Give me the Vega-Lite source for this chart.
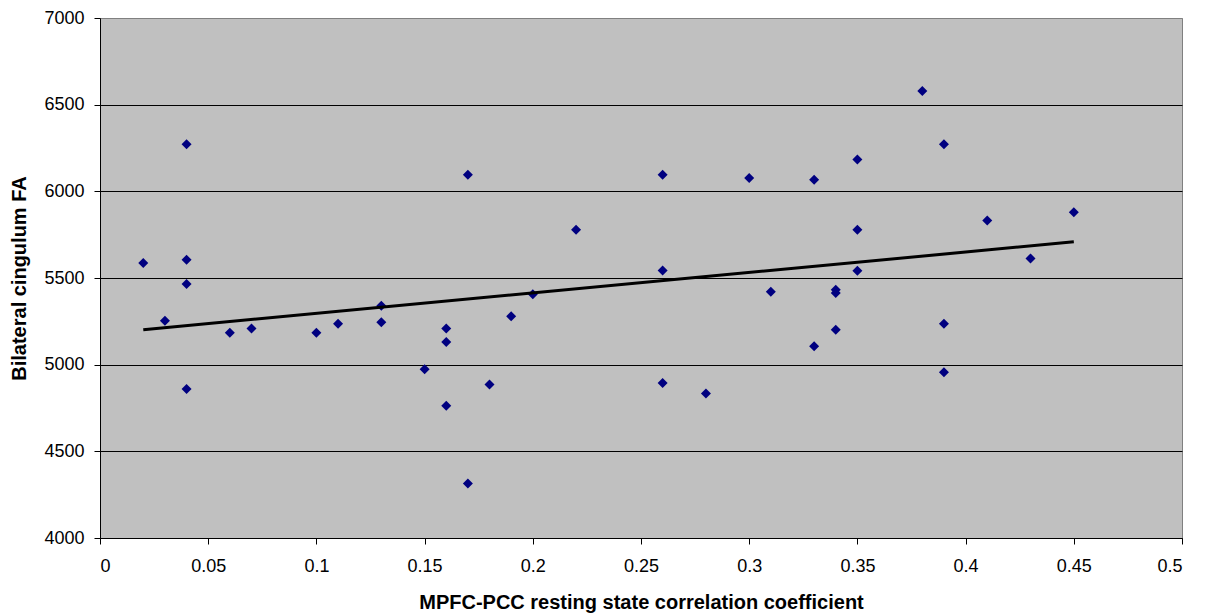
{
  "$schema": "https://vega.github.io/schema/vega-lite/v6.json",
  "autosize": "none",
  "padding": {"left": 100, "top": 18, "right": 25, "bottom": 76},
  "width": 1082,
  "height": 520,
  "background": "white",
  "config": {
    "view": {"fill": "#C0C0C0", "stroke": "#808080", "strokeWidth": 1},
    "font": "Liberation Sans"
  },
  "data": {
    "values": [
      {"r": 0.02, "fa": 5587}, {"r": 0.03, "fa": 5254}, {"r": 0.04, "fa": 6271},
      {"r": 0.04, "fa": 5606}, {"r": 0.04, "fa": 5465}, {"r": 0.04, "fa": 4860},
      {"r": 0.06, "fa": 5184}, {"r": 0.07, "fa": 5209}, {"r": 0.10, "fa": 5184},
      {"r": 0.11, "fa": 5236}, {"r": 0.13, "fa": 5340}, {"r": 0.13, "fa": 5244},
      {"r": 0.15, "fa": 4973}, {"r": 0.16, "fa": 5209}, {"r": 0.16, "fa": 5131},
      {"r": 0.16, "fa": 4763}, {"r": 0.17, "fa": 6096}, {"r": 0.17, "fa": 4315},
      {"r": 0.18, "fa": 4885}, {"r": 0.19, "fa": 5279}, {"r": 0.20, "fa": 5406},
      {"r": 0.22, "fa": 5779}, {"r": 0.26, "fa": 6096}, {"r": 0.26, "fa": 5543},
      {"r": 0.26, "fa": 4894}, {"r": 0.28, "fa": 4833}, {"r": 0.30, "fa": 6077},
      {"r": 0.31, "fa": 5421}, {"r": 0.33, "fa": 6067}, {"r": 0.33, "fa": 5106},
      {"r": 0.34, "fa": 5432}, {"r": 0.34, "fa": 5413}, {"r": 0.34, "fa": 5202},
      {"r": 0.35, "fa": 6183}, {"r": 0.35, "fa": 5779}, {"r": 0.35, "fa": 5542},
      {"r": 0.38, "fa": 6579}, {"r": 0.39, "fa": 6271}, {"r": 0.39, "fa": 5236},
      {"r": 0.39, "fa": 4956}, {"r": 0.41, "fa": 5832}, {"r": 0.43, "fa": 5613},
      {"r": 0.45, "fa": 5879}
    ]
  },
  "encoding": {
    "x": {
      "field": "r", "type": "quantitative",
      "scale": {"domain": [0, 0.5], "nice": false, "zero": false},
      "axis": {
        "title": "MPFC-PCC resting state correlation coefficient",
        "values": [0, 0.05, 0.1, 0.15, 0.2, 0.25, 0.3, 0.35, 0.4, 0.45, 0.5],
        "format": "~g",
        "grid": false,
        "domainColor": "black", "domainWidth": 1,
        "tickColor": "black", "tickSize": 6, "tickWidth": 1,
        "labelFont": "Liberation Sans", "labelFontSize": 18, "labelColor": "black",
        "labelPadding": 13,
        "titleFont": "Liberation Sans", "titleFontSize": 20, "titleFontWeight": "bold",
        "titleColor": "black", "titleY": 64, "titleBaseline": "middle"
      }
    },
    "y": {
      "field": "fa", "type": "quantitative",
      "scale": {"domain": [4000, 7000], "nice": false, "zero": false},
      "axis": {
        "title": "Bilateral cingulum FA",
        "values": [4000, 4500, 5000, 5500, 6000, 6500, 7000],
        "format": "d",
        "grid": true,
        "gridColor": {"condition": {"test": "datum.value === 7000", "value": "#808080"}, "value": "black"},
        "gridWidth": 1, "gridOpacity": 1,
        "domainColor": "black", "domainWidth": 1,
        "tickColor": "black", "tickSize": 6, "tickWidth": 1,
        "labelFont": "Liberation Sans", "labelFontSize": 18, "labelColor": "black",
        "labelPadding": 10,
        "titleFont": "Liberation Sans", "titleFontSize": 20, "titleFontWeight": "bold",
        "titleColor": "black", "titleX": -81, "titleY": 260, "titleBaseline": "middle",
        "titleAngle": 270
      }
    }
  },
  "layer": [
    {
      "mark": {"type": "point", "shape": "diamond", "filled": true, "color": "#000080", "opacity": 1, "size": 100}
    },
    {
      "transform": [{"regression": "fa", "on": "r"}],
      "mark": {"type": "line", "color": "black", "strokeWidth": 3}
    }
  ]
}
